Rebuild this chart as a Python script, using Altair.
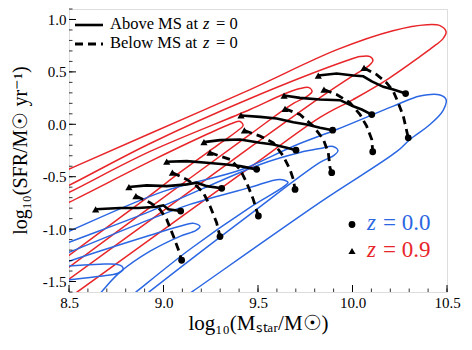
import altair as alt
import pandas as pd

# ---------------- data ----------------
# Red contours (z = 0.9), outer -> inner; each path: upper edge -> tip -> lower edge
R1_X = [8.241, 8.521, 8.929, 9.458, 9.918, 10.214, 10.394, 10.463, 10.495, 10.479, 10.421, 10.357, 10.183, 10.003, 9.828, 9.458, 8.929, 8.542, 8.452]
R1_Y = [-0.640, -0.411, -0.088, 0.331, 0.712, 0.893, 0.950, 0.941, 0.884, 0.817, 0.731, 0.646, 0.427, 0.236, 0.065, -0.411, -1.097, -1.602, -1.716]
R2_X = [8.241, 8.5, 8.929, 9.458, 9.971, 10.040, 10.093, 10.108, 10.087, 10.003, 9.828, 9.458, 8.929, 8.5, 8.347]
R2_Y = [-0.811, -0.583, -0.183, 0.246, 0.608, 0.646, 0.646, 0.608, 0.560, 0.465, 0.255, -0.221, -0.916, -1.478, -1.678]
R3_X = [8.241, 8.5, 8.929, 9.458, 9.632, 9.722, 9.770, 9.786, 9.765, 9.669, 9.458, 8.929, 8.5, 8.347]
R3_Y = [-0.878, -0.650, -0.259, 0.141, 0.284, 0.341, 0.350, 0.312, 0.274, 0.179, -0.097, -0.792, -1.364, -1.564]
R4_X = [8.241, 8.5, 8.929, 9.193, 9.362, 9.405, 9.421, 9.394, 9.299, 9.087, 8.929, 8.664, 8.5, 8.347]
R4_Y = [-0.973, -0.745, -0.354, -0.126, 0.008, 0.027, -0.011, -0.059, -0.183, -0.459, -0.678, -1.031, -1.250, -1.450]

# Blue contours (z = 0.0), outer -> inner
B1_X = [8.241, 8.5, 9.0, 9.414, 9.687, 9.916, 10.216, 10.357, 10.463, 10.495, 10.479, 10.410, 10.304, 10.235, 9.828, 9.156, 9.087]
B1_Y = [-1.231, -1.021, -0.640, -0.431, -0.209, -0.050, 0.173, 0.270, 0.280, 0.236, 0.131, -0.002, -0.145, -0.259, -0.745, -1.592, -1.678]
B2_X = [8.241, 8.5, 8.929, 9.511, 9.722, 9.828, 9.897, 9.923, 9.902, 9.828, 9.458, 8.929, 8.876]
B2_Y = [-1.307, -1.126, -0.831, -0.383, -0.269, -0.231, -0.211, -0.250, -0.297, -0.364, -0.859, -1.592, -1.669]
B3_X = [8.241, 8.5, 8.929, 9.140, 9.458, 9.616, 9.659, 9.638, 9.458, 9.140, 8.860, 8.807]
B3_Y = [-1.402, -1.221, -0.907, -0.764, -0.602, -0.526, -0.554, -0.592, -0.792, -1.192, -1.592, -1.669]
B4_X = [8.241, 8.5, 8.929, 9.087, 9.156, 9.193, 9.172, 9.087, 8.929, 8.770, 8.675, 8.638]
B4_Y = [-1.478, -1.307, -1.059, -0.973, -0.945, -0.973, -1.011, -1.069, -1.211, -1.411, -1.592, -1.669]
B5_X = [8.241, 8.484, 8.664, 8.749, 8.780, 8.786, 8.759, 8.664, 8.484, 8.241]
B5_Y = [-1.411, -1.354, -1.335, -1.335, -1.354, -1.383, -1.421, -1.450, -1.488, -1.535]

# Tracks "Above MS at z=0" (solid): from z=0.9 (first) to z=0.0 (last)
S1_X = [9.819, 9.916, 10.004, 10.057, 10.102, 10.163, 10.216, 10.281]
S1_Y = [0.465, 0.484, 0.465, 0.458, 0.410, 0.357, 0.331, 0.293]
S2_X = [9.638, 9.722, 9.828, 9.934, 10.004, 10.049, 10.102]
S2_Y = [0.274, 0.252, 0.236, 0.230, 0.172, 0.141, 0.093]
S3_X = [9.410, 9.511, 9.599, 9.687, 9.758, 9.828, 9.895]
S3_Y = [0.084, 0.071, 0.055, 0.020, -0.002, -0.033, -0.056]
S4_X = [9.214, 9.299, 9.405, 9.511, 9.581, 9.652, 9.701]
S4_Y = [-0.170, -0.151, -0.145, -0.176, -0.192, -0.224, -0.247]
S5_X = [9.017, 9.123, 9.229, 9.334, 9.405, 9.493]
S5_Y = [-0.357, -0.351, -0.367, -0.383, -0.399, -0.430]
S6_X = [8.817, 8.911, 9.017, 9.123, 9.176, 9.229, 9.308]
S6_Y = [-0.599, -0.583, -0.590, -0.573, -0.557, -0.590, -0.611]
S7_X = [8.641, 8.770, 8.867, 8.964, 8.999, 9.025, 9.091]
S7_Y = [-0.811, -0.799, -0.799, -0.786, -0.773, -0.811, -0.828]

# Tracks "Below MS at z=0" (dashed)
D1_X = [10.061, 10.128, 10.181, 10.216, 10.242, 10.269, 10.295]
D1_Y = [0.538, 0.474, 0.395, 0.315, 0.205, 0.077, -0.129]
D2_X = [9.849, 9.916, 9.987, 10.040, 10.075, 10.102, 10.107]
D2_Y = [0.331, 0.284, 0.205, 0.093, -0.018, -0.145, -0.262]
D3_X = [9.643, 9.722, 9.793, 9.846, 9.872, 9.881, 9.890]
D3_Y = [0.148, 0.093, -0.018, -0.145, -0.271, -0.414, -0.462]
D4_X = [9.428, 9.511, 9.581, 9.634, 9.669, 9.687, 9.696]
D4_Y = [-0.059, -0.113, -0.176, -0.304, -0.430, -0.526, -0.621]
D5_X = [9.246, 9.352, 9.405, 9.440, 9.475, 9.502]
D5_Y = [-0.271, -0.335, -0.430, -0.557, -0.716, -0.875]
D6_X = [9.047, 9.123, 9.176, 9.211, 9.246, 9.281, 9.299]
D6_Y = [-0.462, -0.526, -0.590, -0.652, -0.780, -0.938, -1.071]
D7_X = [8.854, 8.929, 8.981, 9.017, 9.052, 9.078, 9.096]
D7_Y = [-0.685, -0.748, -0.811, -0.907, -1.066, -1.192, -1.297]

X_MAJOR = [8.5, 9.0, 9.5, 10.0, 10.5]
Y_MAJOR = [-1.5, -1.0, -0.5, 0.0, 0.5, 1.0]
X_MINOR = [round(8.5 + 0.1 * i, 1) for i in range(21)]
Y_MINOR = [round(-1.6 + 0.1 * i, 1) for i in range(28)]

X_TITLE = "log₁₀(Mₛₜₐᵣ/M☉)"
Y_TITLE = "log₁₀(SFR/M☉ yr⁻¹)"
LEG_LINES = ["Above MS at", "Below MS at"]
Z_LABELS = ["= 0.0", "= 0.9"]

RED = "#e8262a"
BLUE = "#2b67e3"
FONT = "Liberation Serif"

W, H = 378, 283
xs = alt.Scale(domain=[8.5, 10.5], nice=False, zero=False)
ys = alt.Scale(domain=[-1.6, 1.1], nice=False, zero=False)

X_AXIS = alt.Axis(
    values=X_MAJOR, format=".1f", ticks=False, domain=False, grid=False,
    labelFont=FONT, labelFontSize=15, labelColor="black", labelPadding=3,
    labelFlush=False,
    title=X_TITLE, titleFont=FONT, titleFontSize=21, titleFontWeight="normal",
    titleColor="black", titleX=189, titleY=31, titleBaseline="middle", titleAlign="center")
Y_AXIS = alt.Axis(
    values=Y_MAJOR, format=".1f", labelExpr="replace(datum.label, '−', '-')",
    ticks=False, domain=False, grid=False,
    labelFont=FONT, labelFontSize=15, labelColor="black", labelPadding=3,
    labelFlush=False,
    title=Y_TITLE, titleFont=FONT, titleFontSize=20, titleFontWeight="normal",
    titleColor="black", titleX=-49, titleY=141, titleAngle=270,
    titleBaseline="middle", titleAlign="center")


def X():
    return alt.X("x:Q", scale=xs, axis=X_AXIS)


def Y():
    return alt.Y("y:Q", scale=ys, axis=Y_AXIS)


# ---------------- tables ----------------
def path_df(pairs, group_prefix):
    rows = []
    for gi, (xv, yv) in enumerate(pairs):
        for k, (a, b) in enumerate(zip(xv, yv)):
            rows.append({"x": a, "y": b, "g": f"{group_prefix}{gi}", "k": k})
    return pd.DataFrame(rows)


red_df = path_df([(R1_X, R1_Y), (R2_X, R2_Y), (R3_X, R3_Y), (R4_X, R4_Y)], "r")
blue_df = path_df([(B1_X, B1_Y), (B2_X, B2_Y), (B3_X, B3_Y), (B4_X, B4_Y), (B5_X, B5_Y)], "b")
solid = [(S1_X, S1_Y), (S2_X, S2_Y), (S3_X, S3_Y), (S4_X, S4_Y), (S5_X, S5_Y), (S6_X, S6_Y), (S7_X, S7_Y)]
dashed = [(D1_X, D1_Y), (D2_X, D2_Y), (D3_X, D3_Y), (D4_X, D4_Y), (D5_X, D5_Y), (D6_X, D6_Y), (D7_X, D7_Y)]
solid_df = path_df(solid, "s")
dashed_df = path_df(dashed, "d")
starts = pd.DataFrame([{"x": t[0][0], "y": t[1][0]} for t in solid + dashed])
ends = pd.DataFrame([{"x": t[0][-1], "y": t[1][-1]} for t in solid + dashed])


def contour(df, color):
    return alt.Chart(df).mark_line(
        color=color, strokeWidth=1.5, interpolate="catmull-rom", clip=True
    ).encode(x=X(), y=Y(), detail="g:N", order="k:Q")


red_layer = contour(red_df, RED)
blue_layer = contour(blue_df, BLUE)

solid_layer = alt.Chart(solid_df).mark_line(color="black", strokeWidth=2.6, clip=True).encode(
    x=X(), y=Y(), detail="g:N", order="k:Q")
dashed_layer = alt.Chart(dashed_df).mark_line(
    color="black", strokeWidth=2.8, strokeDash=[8, 5], clip=True).encode(
    x=X(), y=Y(), detail="g:N", order="k:Q")
tri_layer = alt.Chart(starts).mark_point(
    shape="triangle-up", filled=True, color="black", size=52, opacity=1).encode(x=X(), y=Y())
circ_layer = alt.Chart(ends).mark_circle(color="black", size=46, opacity=1).encode(x=X(), y=Y())

# inward ticks (left and bottom)
one = pd.DataFrame({"a": [0]})
ytick_major = alt.Chart(pd.DataFrame({"y": Y_MAJOR})).mark_rule(color="black", strokeWidth=1).encode(
    y=Y(), x=alt.value(0), x2=alt.value(7))
ytick_minor = alt.Chart(pd.DataFrame({"y": Y_MINOR})).mark_rule(color="black", strokeWidth=0.8).encode(
    y=Y(), x=alt.value(0), x2=alt.value(3.5))
xtick_major = alt.Chart(pd.DataFrame({"x": X_MAJOR})).mark_rule(color="black", strokeWidth=1).encode(
    x=X(), y=alt.value(H), y2=alt.value(H - 7))
xtick_minor = alt.Chart(pd.DataFrame({"x": X_MINOR})).mark_rule(color="black", strokeWidth=0.8).encode(
    x=X(), y=alt.value(H), y2=alt.value(H - 3.5))


def label(text, px, py, size, color="black", style="normal"):
    return alt.Chart(one).mark_text(
        text=text, font=FONT, fontSize=size, fontStyle=style, align="left",
        baseline="alphabetic", color=color).encode(x=alt.value(px), y=alt.value(py))


# legend, top-left
leg_solid = alt.Chart(one).mark_rule(color="black", strokeWidth=2.6).encode(
    x=alt.value(6), x2=alt.value(34), y=alt.value(16))
leg_dash = alt.Chart(one).mark_rule(color="black", strokeWidth=2.8, strokeDash=[8, 5]).encode(
    x=alt.value(6), x2=alt.value(34), y=alt.value(35))
leg_texts = [
    label(LEG_LINES[0], 41, 20, 16.5), label("z", 134, 20, 16.5, style="italic"), label("= 0", 147, 20, 16.5),
    label(LEG_LINES[1], 41, 39, 16.5), label("z", 134, 39, 16.5, style="italic"), label("= 0", 147, 39, 16.5),
]

# legend, bottom-right
leg_c = alt.Chart(one).mark_circle(color="black", size=46, opacity=1).encode(
    x=alt.value(283), y=alt.value(215.5))
leg_t = alt.Chart(one).mark_point(shape="triangle-up", filled=True, color="black", size=52, opacity=1).encode(
    x=alt.value(283), y=alt.value(242))
z_texts = [
    label("z", 298, 221, 23, BLUE, "italic"), label(Z_LABELS[0], 314, 221, 23, BLUE),
    label("z", 298, 247.5, 23, RED, "italic"), label(Z_LABELS[1], 314, 247.5, 23, RED),
]

chart = alt.layer(
    red_layer, blue_layer, solid_layer, dashed_layer, tri_layer, circ_layer,
    ytick_major, ytick_minor, xtick_major, xtick_minor,
    leg_solid, leg_dash, *leg_texts, leg_c, leg_t, *z_texts,
).properties(
    width=W, height=H,
    autosize=alt.AutoSizeParams(type="none"),
    padding={"left": 61, "top": 1, "right": 17, "bottom": 50},
).configure_view(stroke="black", strokeWidth=1.2).configure(background="white")

chart.save("out.html", embed_options={"renderer": "svg", "actions": False})
